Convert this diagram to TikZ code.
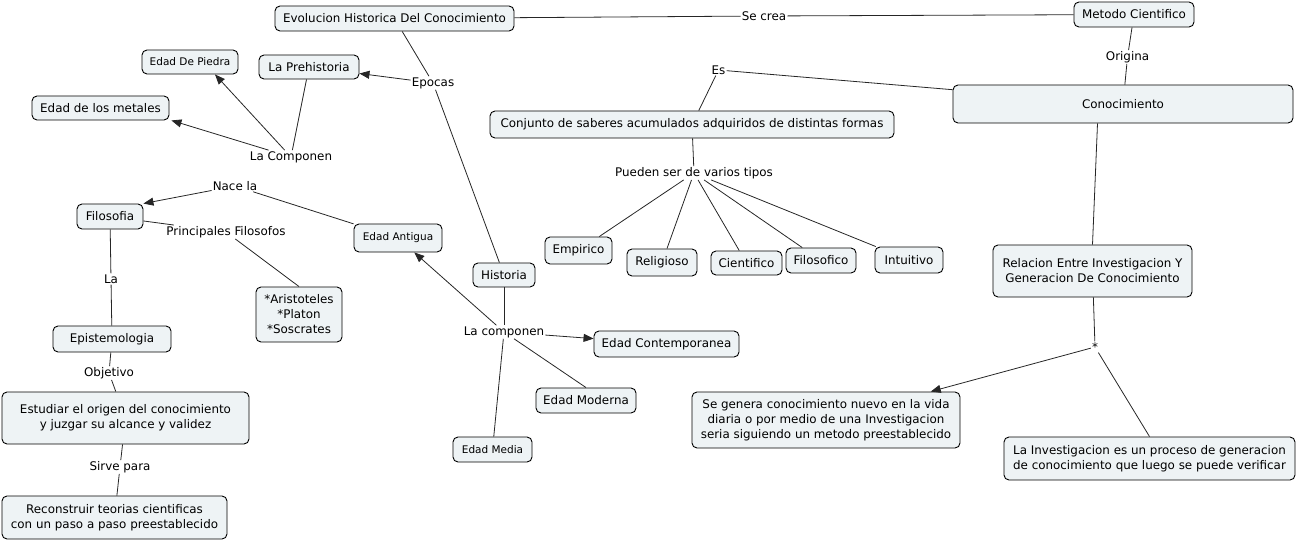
\documentclass[tikz,border=0pt]{standalone}
\usepackage{fontspec}
\setmainfont{DejaVu Sans}
\usetikzlibrary{arrows.meta}
\definecolor{cmfill}{HTML}{EEF3F5}
\definecolor{cmline}{HTML}{262626}
\tikzset{
  conceptbox/.style={draw=black, fill=cmfill, rounded corners=5pt, line width=0.9pt,
                     inner sep=2pt, align=center, text=black, font=\fontsize{11.9}{15}\selectfont},
  smallbox/.style={conceptbox, font=\fontsize{10.5}{13}\selectfont},
  linkbox/.style={fill=white, inner sep=1pt, text=black, font=\fontsize{11.9}{15}\selectfont},
  ln/.style={line width=0.8pt, color=cmline},
  arr/.style={ln, -{Triangle[length=10pt, width=8pt]}}}

\begin{document}
\begin{tikzpicture}[x=1pt, y=-1pt]
  \useasboundingbox (0,0) rectangle (1298,540);
  % concepts
  \node[conceptbox, minimum width=239pt, minimum height=25pt] (evol) at (394.5,18.5) {Evolucion Historica Del Conocimiento};
  \node[conceptbox, minimum width=120pt, minimum height=25pt] (metodo) at (1134,14.5) {Metodo Cientifico};
  \node[conceptbox, minimum width=340pt, minimum height=38pt] (conoc) at (1123,104) {Conocimiento};
  \node[conceptbox, minimum width=404pt, minimum height=27pt] (conj) at (692,124.5) {Conjunto de saberes acumulados adquiridos de distintas formas};
  \node[conceptbox, minimum width=67pt, minimum height=27pt] (empirico) at (578.5,250.5) {Empirico};
  \node[conceptbox, minimum width=70pt, minimum height=27pt] (religioso) at (662,262.5) {Religioso};
  \node[conceptbox, minimum width=71pt, minimum height=24pt] (cientifico) at (746.5,263) {Cientifico};
  \node[conceptbox, minimum width=70pt, minimum height=25pt] (filosofico) at (821,260.5) {Filosofico};
  \node[conceptbox, minimum width=68pt, minimum height=26pt] (intuitivo) at (909,260) {Intuitivo};
  \node[conceptbox, minimum width=62pt, minimum height=24pt] (historia) at (504,275) {Historia};
  \node[smallbox, minimum width=88pt, minimum height=28pt] (eantigua) at (398,238) {Edad Antigua};
  \node[conceptbox, minimum width=145pt, minimum height=26pt] (econtemp) at (666.5,344) {Edad Contemporanea};
  \node[conceptbox, minimum width=100pt, minimum height=25pt] (emoderna) at (586,400.5) {Edad Moderna};
  \node[smallbox, minimum width=79pt, minimum height=25pt] (emedia) at (492.5,449.5) {Edad Media};
  \node[conceptbox, minimum width=100pt, minimum height=24pt] (prehist) at (309,67) {La Prehistoria};
  \node[smallbox, minimum width=96pt, minimum height=24pt] (piedra) at (190,62) {Edad De Piedra};
  \node[conceptbox, minimum width=137pt, minimum height=24pt] (metales) at (100.5,108) {Edad de los metales};
  \node[conceptbox, minimum width=66pt, minimum height=25pt] (filosofia) at (110,216.5) {Filosofia};
  \node[conceptbox, minimum width=86pt, minimum height=55pt] (aris) at (299,314.5) {*Aristoteles\\*Platon\\*Soscrates};
  \node[conceptbox, minimum width=118pt, minimum height=26pt] (epist) at (112,339) {Epistemologia};
  \node[conceptbox, minimum width=247pt, minimum height=52pt] (estudiar) at (125.5,418) {Estudiar el origen del conocimiento\\ y juzgar su alcance y validez};
  \node[conceptbox, minimum width=225pt, minimum height=43pt] (reconst) at (114.5,517.5) {Reconstruir teorias cientificas\\con un paso a paso preestablecido};
  \node[conceptbox, minimum width=199pt, minimum height=52pt] (relacion) at (1092.5,271) {Relacion Entre Investigacion Y\\Generacion De Conocimiento};
  \node[conceptbox, minimum width=268pt, minimum height=56pt] (segenera) at (826,420) {Se genera conocimiento nuevo en la vida\\diaria o por medio de una Investigacion\\seria siguiendo un metodo preestablecido};
  \node[conceptbox, minimum width=291pt, minimum height=43pt] (invest) at (1149.5,458.5) {La Investigacion es un proceso de generacion\\de conocimiento que luego se puede verificar};
  % linking phrases
  \node[linkbox] (secrea) at (764,16) {Se crea};
  \node[linkbox] (origina) at (1127.5,57) {Origina};
  \node[linkbox] (es) at (718.5,70) {Es};
  \node[linkbox] (pueden) at (694,173) {Pueden ser de varios tipos};
  \node[linkbox] (epocas) at (433,83) {Epocas};
  \node[linkbox] (lcomp1) at (291,157) {La Componen};
  \node[linkbox] (nacela) at (235,186) {Nace la};
  \node[linkbox] (princ) at (226,232) {Principales Filosofos};
  \node[linkbox] (la) at (111,279) {La};
  \node[linkbox] (objetivo) at (109,373) {Objetivo};
  \node[linkbox] (sirve) at (120,467) {Sirve para};
  \node[linkbox] (lcomp2) at (504,332) {La componen};
  \node[linkbox] (star) at (1095,347) {*};
  % connectors
  \draw[ln] (evol) -- (secrea) -- (metodo);
  \draw[ln] (metodo) -- (origina) -- (conoc);
  \draw[ln] (conoc) -- (es) -- (conj);
  \draw[ln] (conj) -- (pueden);
  \draw[ln] (pueden) -- (empirico);
  \draw[ln] (pueden) -- (religioso);
  \draw[ln] (pueden) -- (cientifico);
  \draw[ln] (pueden) -- (filosofico);
  \draw[ln] (pueden) -- (intuitivo);
  \draw[ln] (evol) -- (epocas) -- (historia);
  \draw[arr] (epocas) -- (prehist);
  \draw[ln] (prehist) -- (lcomp1);
  \draw[arr] (lcomp1) -- ([xshift=25pt]piedra.south);
  \draw[arr] (lcomp1) -- ([xshift=2pt]metales.south east);
  \draw[ln] (eantigua) -- (nacela);
  \draw[arr] (nacela) -- (filosofia.north east);
  \draw[ln] (filosofia) -- (princ) -- (aris.north);
  \draw[ln] (filosofia) -- (la) -- (epist);
  \draw[ln] (epist) -- (objetivo) -- (estudiar);
  \draw[ln] (estudiar) -- (sirve) -- (reconst);
  \draw[ln] (historia) -- (lcomp2);
  \draw[arr] (lcomp2) -- (eantigua);
  \draw[arr] (lcomp2) -- (econtemp);
  \draw[ln] (lcomp2) -- (emoderna.north);
  \draw[ln] (lcomp2) -- (emedia);
  \draw[ln] ([xshift=5pt]relacion.north |- conoc.south) -- (relacion.north);
  \draw[ln] (relacion) -- (star);
  \draw[arr] (star) -- (segenera);
  \draw[ln] (star) -- (invest.north);
\end{tikzpicture}
\end{document}
